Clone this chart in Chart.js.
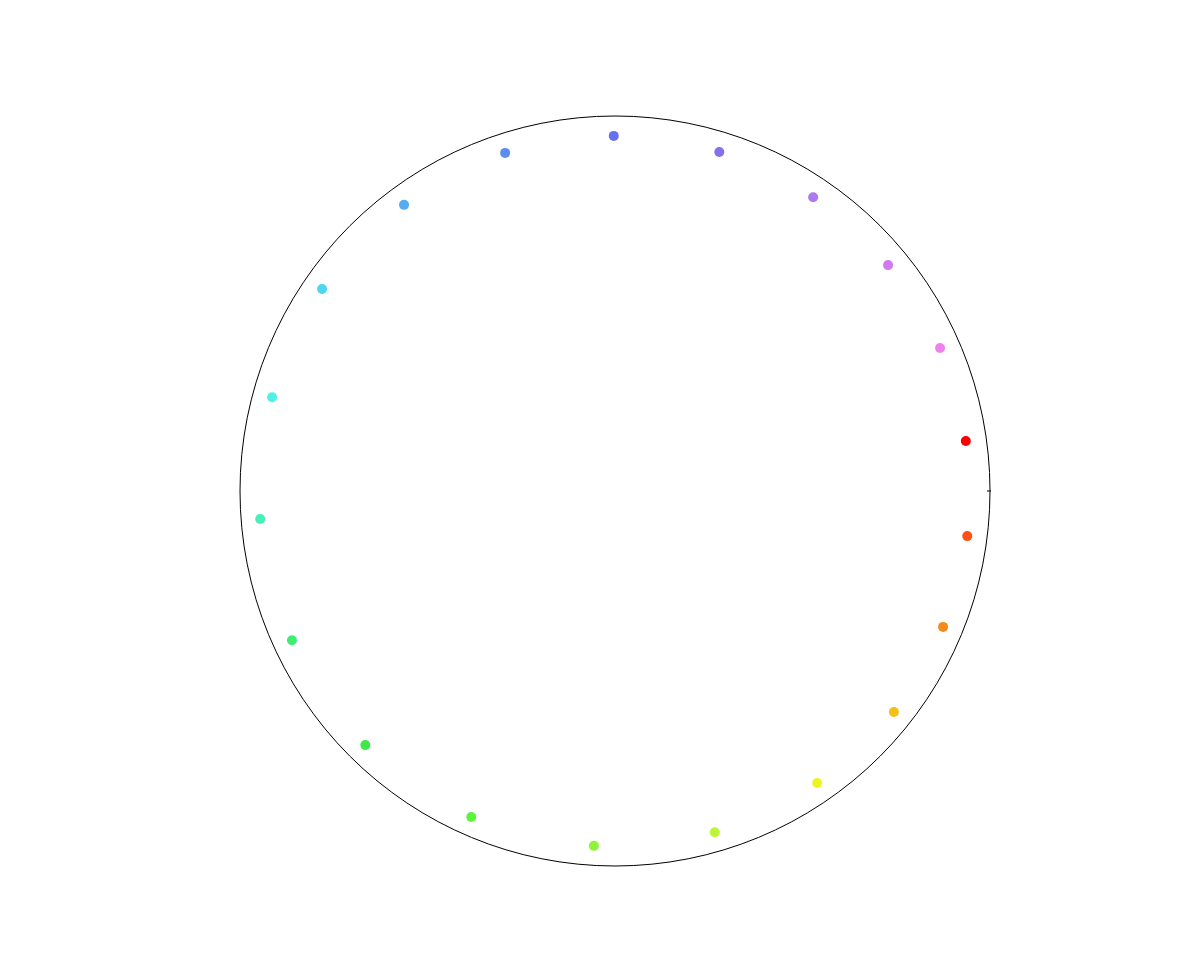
<!DOCTYPE html>
<html>
<head>
<meta charset="utf-8">
<script src="https://cdn.jsdelivr.net/npm/chart.js@4/dist/chart.umd.min.js"></script>
<style>
html,body{margin:0;padding:0;background:#fff;}
#c{display:block;}
</style>
</head>
<body>
<canvas id="c" width="1200" height="974"></canvas>
<script>
// angles in degrees (counter-clockwise from the right), radius relative to outer ring (1)
const thetaDeg = [8.1, 23.75, 39.6, 56, 72.9, 90.2, 108, 126.4, 145.4, 164.7, 184.5, 204.8, 225.5, 246.2, 266.6, 286.3, 304.7, 321.6, 337.5, 352.7];
const radii = [0.945, 0.947, 0.945, 0.945, 0.946, 0.947, 0.948, 0.948, 0.949, 0.948, 0.949, 0.949, 0.950, 0.950, 0.948, 0.948, 0.947, 0.949, 0.947, 0.947];
const pointColors = ['#ff0000', '#f080ee', '#d278f0', '#ab7aec', '#8270ec', '#6470f0', '#5f8cf0', '#55aaf0', '#4fd6f0', '#4ff0e6', '#46f0b4', '#3ded74', '#3de84b', '#5af53a', '#8cf53a', '#bdf53a', '#eaf521', '#f5c015', '#f5891a', '#ff5014'];
const rMax = 1;

const pts = thetaDeg.map((t, i) => {
  const a = t * Math.PI / 180;
  return { x: radii[i] * Math.cos(a), y: radii[i] * Math.sin(a) };
});

const ringPlugin = {
  id: 'ring',
  beforeDatasetsDraw(chart) {
    const { ctx, scales: { x, y } } = chart;
    const cx = x.getPixelForValue(0), cy = y.getPixelForValue(0);
    const rp = x.getPixelForValue(rMax) - cx;
    ctx.save();
    ctx.strokeStyle = '#000';
    ctx.lineWidth = 1;
    ctx.beginPath();
    ctx.arc(cx, cy, rp, 0, Math.PI * 2);
    ctx.stroke();
    // small tick at angle 0
    ctx.beginPath();
    ctx.moveTo(cx + rp - 3, cy);
    ctx.lineTo(cx + rp + 1, cy);
    ctx.stroke();
    ctx.restore();
  }
};

new Chart(document.getElementById('c'), {
  type: 'scatter',
  data: {
    datasets: [{
      data: pts,
      pointRadius: 5,
      pointHoverRadius: 5,
      pointBorderWidth: 0,
      pointBackgroundColor: pointColors,
      pointBorderColor: pointColors
    }]
  },
  options: {
    responsive: false,
    animation: false,
    layout: { padding: { left: 240, right: 210, top: 116, bottom: 108 } },
    plugins: { legend: { display: false }, tooltip: { enabled: false } },
    scales: {
      x: { type: 'linear', min: -rMax, max: rMax, display: false },
      y: { type: 'linear', min: -rMax, max: rMax, display: false }
    }
  },
  plugins: [ringPlugin]
});
</script>
</body>
</html>
